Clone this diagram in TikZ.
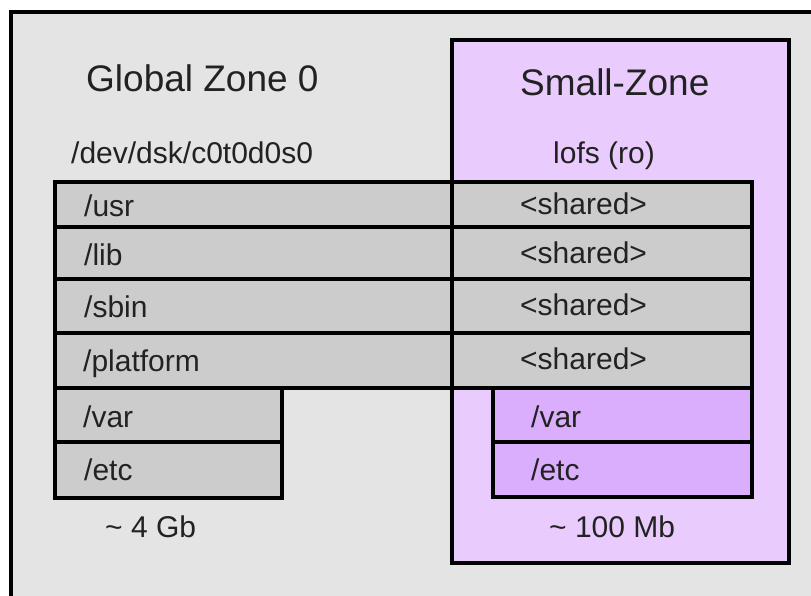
\documentclass[tikz,border=0pt]{standalone}
\usepackage{fontspec}
\setmainfont{Liberation Sans}
\definecolor{bgout}{RGB}{228,228,228}
\definecolor{rowgrey}{RGB}{204,204,204}
\definecolor{zonepink}{RGB}{233,204,253}
\definecolor{zonepurple}{RGB}{218,174,253}
\definecolor{txt}{RGB}{34,34,34}
\tikzset{
  frame/.style={draw=black, line width=3.5pt},
  title/.style={anchor=base west, inner sep=0pt, text=txt, font=\fontsize{37}{44}\selectfont},
  lbl/.style={anchor=base west, inner sep=0pt, text=txt, font=\fontsize{30}{35}\selectfont},
}
\begin{document}
\begin{tikzpicture}[x=1pt,y=-1pt]
\useasboundingbox (0,0) rectangle (811,595);
\clip (0,0) rectangle (811,595);
\fill[white] (0,0) rectangle (811,595);
% outer global zone
\draw[frame, fill=bgout] (11,12) rectangle (850,650);
% small zone fill
\fill[zonepink] (452,40) rectangle (789,563);
% shared rows
\draw[frame, fill=rowgrey] (55,182) rectangle (752,227);
\draw[frame, fill=rowgrey] (55,227) rectangle (752,279);
\draw[frame, fill=rowgrey] (55,279) rectangle (752,333);
\draw[frame, fill=rowgrey] (55,333) rectangle (752,388);
% global var/etc
\draw[frame, fill=rowgrey] (55,388) rectangle (282,442);
\draw[frame, fill=rowgrey] (55,442) rectangle (282,498);
% small zone var/etc
\draw[frame, fill=zonepurple] (493,388) rectangle (752,442);
\draw[frame, fill=zonepurple] (493,442) rectangle (752,497);
% small zone border
\draw[frame] (452,40) rectangle (789,563);
% texts
\node[title] (gz) at (86,91) {Global Zone 0};
\node[title] (sz) at (520,95) {Small-Zone};
\node[lbl] (dev) at (71,163) {/dev/dsk/c0t0d0s0};
\node[lbl] (lofs) at (553,163) {lofs (ro)};
\node[lbl] (usr) at (84,216) {/usr};
\node[lbl] (lib) at (84,265) {/lib};
\node[lbl] (sbin) at (84,317) {/sbin};
\node[lbl] (plat) at (83,371) {/platform};
\node[lbl] (gvar) at (83,427) {/var};
\node[lbl] (getc) at (84,480) {/etc};
\node[lbl] (sh1) at (520,214) {<shared>};
\node[lbl] (sh2) at (520,263) {<shared>};
\node[lbl] (sh3) at (520,315) {<shared>};
\node[lbl] (sh4) at (520,369) {<shared>};
\node[lbl] (svar) at (531,427) {/var};
\node[lbl] (setc) at (531,480) {/etc};
\node[lbl] (gsize) at (105,537) {\textasciitilde\ 4 Gb};
\node[lbl] (ssize) at (549,537) {\textasciitilde\ 100 Mb};
\end{tikzpicture}
\end{document}
